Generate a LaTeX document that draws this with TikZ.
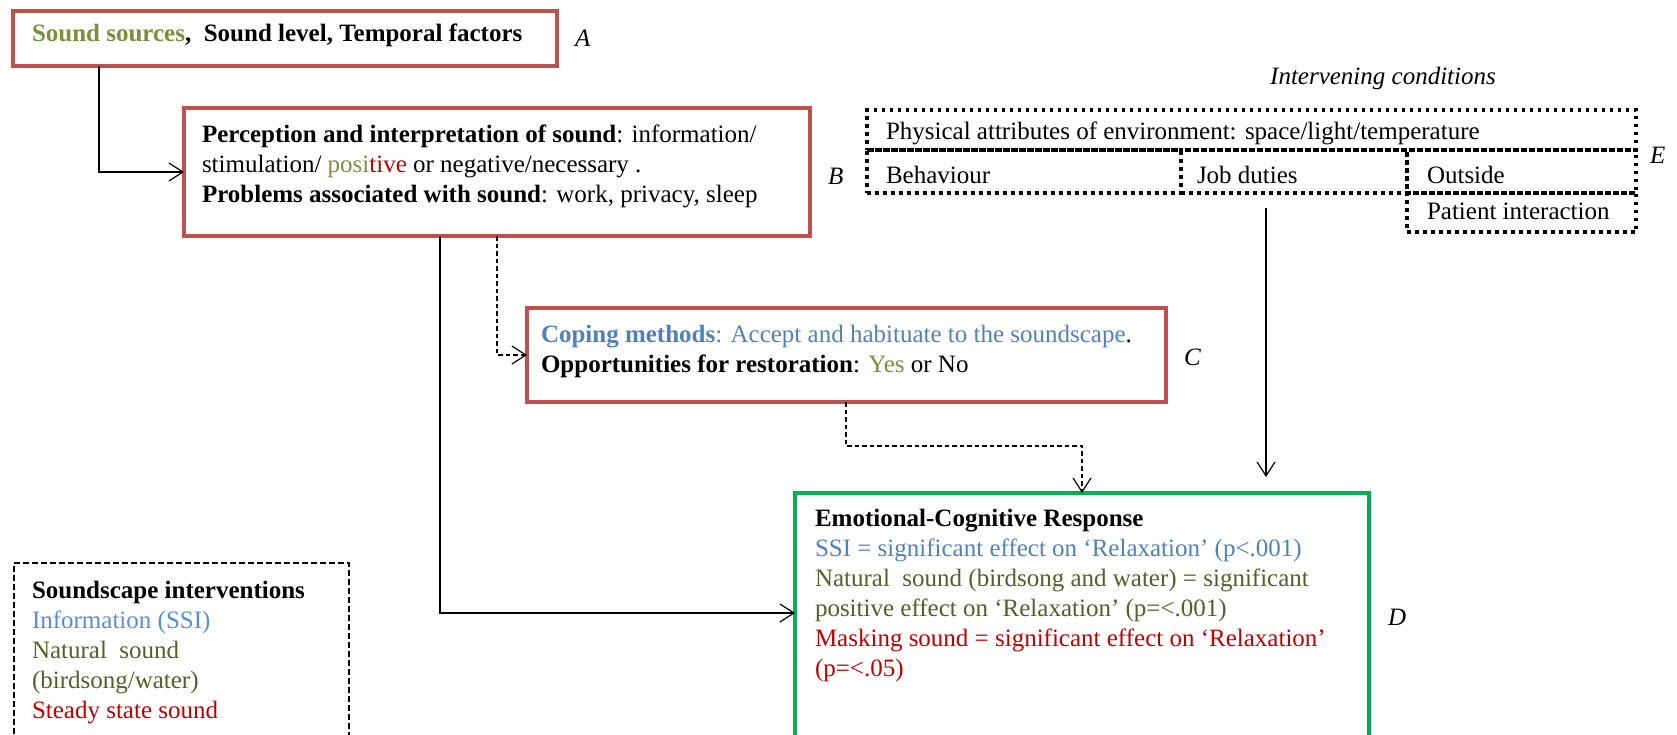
\documentclass[tikz,border=0pt]{standalone}
\usepackage{fontspec}
\setmainfont{Liberation Serif}
\usepackage{xcolor}
\usepackage{tikz}
\usetikzlibrary{positioning, arrows.meta, calc}

\definecolor{boxred}{HTML}{C0504D}
\definecolor{boxgreen}{HTML}{00B050}
\definecolor{txtolive}{HTML}{76923C}
\definecolor{txtred}{HTML}{C00000}
\definecolor{txtblue}{HTML}{4F81BD}
\definecolor{txtlblue}{HTML}{558ED5}
\definecolor{txtdkgreen}{HTML}{4F6228}

\begin{document}
\begin{tikzpicture}[x=1pt, y=-1pt, >={Straight Barb[length=14pt,width=18pt]},
	every node/.style={font=\fontsize{25}{30}\selectfont, inner sep=0pt, outer sep=0pt},
	redbox/.style={draw=boxred, line width=3.8pt, anchor=north west},
	dotbox/.style={draw, line width=3.3pt, dash pattern=on 3.5pt off 4.5pt, anchor=north west},
	txt/.style={anchor=north west, align=left},
	lbl/.style={font=\fontsize{25}{30}\selectfont\itshape},
	link/.style={->, line width=1.2pt},
	dlink/.style={link, dash pattern=on 4.5pt off 3pt}]
	\useasboundingbox (0,0) rectangle (1677,734);

	% Define the boxes (stages)
	\node[redbox, minimum width=544, minimum height=55] (A) at (13,11) {};
	\node[redbox, minimum width=626, minimum height=128] (B) at (184,108) {};
	\node[redbox, minimum width=639, minimum height=94] (C) at (527,308) {};
	\node[redbox, draw=boxgreen, line width=4pt, minimum width=574, minimum height=260] (D) at (795,493) {};
	\node[draw, line width=2pt, dash pattern=on 6pt off 3pt, anchor=north west, minimum width=335, minimum height=200] (key) at (14,563) {};

	% Intervening conditions
	\node[dotbox, minimum width=769, minimum height=40] (phys) at (867,110) {};
	\node[dotbox, minimum width=314, minimum height=43] (behav) at (867,150) {};
	\node[dotbox, minimum width=226, minimum height=43] (job) at (1181,150) {};
	\node[dotbox, minimum width=229, minimum height=43] (outside) at (1407,150) {};
	\node[dotbox, minimum width=229, minimum height=39] (patient) at (1407,193) {};

	% Box texts
	\node[txt] (Atxt) at ($(A.north west)+(19,13)$) {\textbf{\textcolor{txtolive}{Sound sources},\ \ Sound level, Temporal factors}};
	\node[txt] (Btxt) at ($(B.north west)+(18,17)$) {\textbf{Perception and interpretation of sound}: information/\\
		stimulation/ \textcolor{txtolive}{posi}\textcolor{txtred}{tive} or negative/necessary .\\
		\textbf{Problems associated with sound}: work, privacy, sleep};
	\node[txt] (Ctxt) at ($(C.north west)+(14,17)$) {\textcolor{txtblue}{\textbf{Coping methods}: Accept and habituate to the soundscape}.\\
		\textbf{Opportunities for restoration}: \textcolor{txtolive}{Yes} or No};
	\node[txt] (Dtxt) at ($(D.north west)+(20,16)$) {\textbf{Emotional-Cognitive Response}\\
		\textcolor{txtblue}{SSI = significant effect on ‘Relaxation’ (p<.001)}\\
		\textcolor{txtdkgreen}{Natural\ \ sound (birdsong and water) = significant}\\
		\textcolor{txtdkgreen}{positive effect on ‘Relaxation’ (p=<.001)}\\
		\textcolor{txtred}{Masking sound = significant effect on ‘Relaxation’}\\
		\textcolor{txtred}{(p=<.05)}};
	\node[txt] (keytxt) at ($(key.north west)+(18,18)$) {\textbf{Soundscape interventions}\\
		\textcolor{txtlblue}{Information (SSI)}\\
		\textcolor{txtdkgreen}{Natural\ \ sound}\\
		\textcolor{txtdkgreen}{(birdsong/water)}\\
		\textcolor{txtred}{Steady state sound}};
	\node[txt] (phystxt) at ($(phys.north west)+(19,12)$) {Physical attributes of environment: space/light/temperature};
	\node[txt] (behavtxt) at ($(behav.north west)+(19,16)$) {Behaviour};
	\node[txt] (jobtxt) at ($(job.north west)+(16,16)$) {Job duties};
	\node[txt] (outsidetxt) at ($(outside.north west)+(20,16)$) {Outside};
	\node[txt] (patienttxt) at ($(patient.north west)+(20,10)$) {Patient interaction};
	\node[lbl, anchor=base] (cond) at (1383,84) {Intervening conditions};

	% Stage letters
	\node[lbl, right=18pt of A] (labA) {A};
	\node[lbl, right=18pt of B, yshift=-4pt] (labB) {B};
	\node[lbl, right=18pt of C, yshift=-2pt] (labC) {C};
	\node[lbl, right=19pt of D, yshift=6pt] (labD) {D};
	\node[lbl, right=14pt of phys.south east, yshift=-5pt] (labE) {E};

	% Define the connections
	\draw[link] ($(A.south west)+(86,0)$) |- (B.west);
	\draw[dlink] ($(B.south west)+(313,0)$) |- (C.west);
	\draw[link] ($(B.south west)+(256,0)$) |- ($(D.west)+(0,-10)$);
	\draw[dlink] ($(C.south west)+(319,0)$) -- ++(0,44) -| ($(D.north west)+(287,0)$);
	\draw[link] ($(job.south west)+(85,15)$) -- ($(D.north west)+(471,-16)$);
\end{tikzpicture}
\end{document}
